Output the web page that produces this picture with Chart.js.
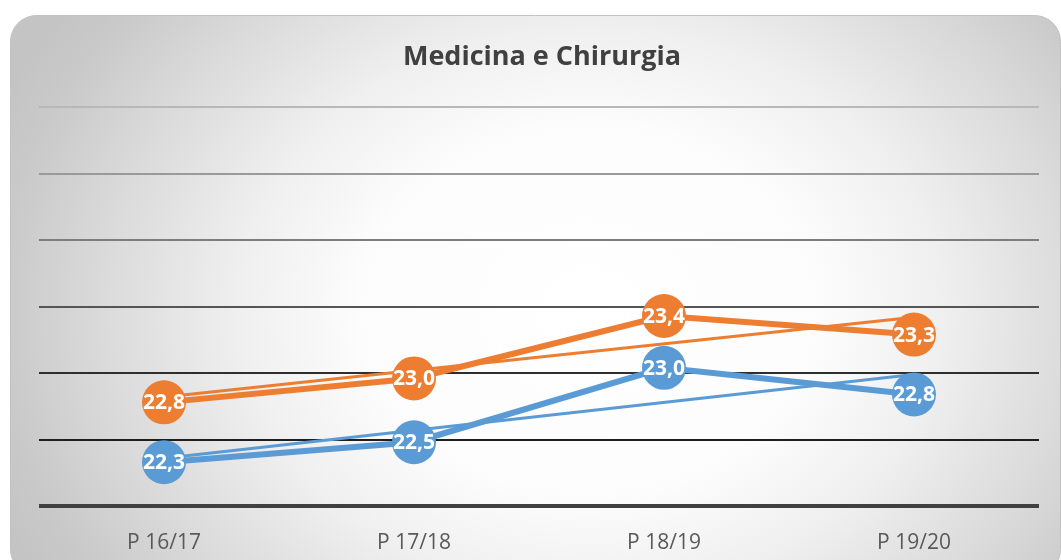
<!DOCTYPE html>
<html>
<head>
<meta charset="utf-8">
<script src="https://cdn.jsdelivr.net/npm/chart.js@4"></script>
<style>
  html, body { margin: 0; padding: 0; background: #ffffff; }
  canvas { display: block; }
</style>
</head>
<body>
<canvas id="c" width="1061" height="560"></canvas>
<script>
// ---- data ----
const categories = ['P 16/17', 'P 17/18', 'P 18/19', 'P 19/20'];
const seriesOrange = [22.78, 22.96, 23.43, 23.29];
const seriesBlue = [22.33, 22.48, 23.04, 22.84];
// linear trend lines (Excel-style), endpoints
const trendOrange = [22.82, null, null, 23.42];
const trendBlue = [22.36, null, null, 22.99];
const yTicks = [22, 22.5, 23, 23.5, 24, 24.5, 25];
const titleText = 'Medicina e Chirurgia';

const ORANGE = '#ED7D31';
const BLUE = '#5B9BD5';
const gridColors = ['#404040', '#1e1e1e', '#2e2e2e', '#555555', '#7d7d7d', '#9a9a9a', '#b8b8b8'];
const gridWidths = [4, 2, 2, 2, 2, 2, 2];

function roundRect(ctx, x, y, w, h, r) {
  ctx.beginPath();
  ctx.moveTo(x + r, y);
  ctx.lineTo(x + w - r, y);
  ctx.arcTo(x + w, y, x + w, y + r, r);
  ctx.lineTo(x + w, y + h - r);
  ctx.arcTo(x + w, y + h, x + w - r, y + h, r);
  ctx.lineTo(x + r, y + h);
  ctx.arcTo(x, y + h, x, y + h - r, r);
  ctx.lineTo(x, y + r);
  ctx.arcTo(x, y, x + r, y, r);
  ctx.closePath();
}

const cardPlugin = {
  id: 'card',
  beforeDraw(chart) {
    const ctx = chart.ctx;
    ctx.save();
    ctx.fillStyle = '#ffffff';
    ctx.fillRect(0, 0, chart.width, chart.height);
    roundRect(ctx, 10.5, 15.5, 1050, 560, 26);
    ctx.save();
    ctx.clip();
    const cx = 590, cy = 310, a = 560, b = 450;
    ctx.translate(cx, cy);
    ctx.scale(1, b / a);
    const g = ctx.createRadialGradient(0, 0, 0, 0, 0, a * 1.15);
    g.addColorStop(0, '#ffffff');
    g.addColorStop(0.36, '#fcfcfc');
    g.addColorStop(0.55, '#efefef');
    g.addColorStop(0.78, '#d8d8d8');
    g.addColorStop(0.92, '#c9c9c9');
    g.addColorStop(1, '#c4c4c4');
    ctx.fillStyle = g;
    ctx.fillRect(-2000, -2000, 4000, 4000);
    ctx.restore();
    ctx.lineWidth = 1;
    ctx.strokeStyle = '#c2c2c2';
    ctx.stroke();
    ctx.restore();
  }
};

const labelPlugin = {
  id: 'valueLabels',
  afterDatasetsDraw(chart) {
    const ctx = chart.ctx;
    ctx.save();
    ctx.font = 'bold 21px "Open Sans"';
    ctx.fillStyle = '#ffffff';
    ctx.textAlign = 'center';
    ctx.textBaseline = 'middle';
    chart.data.datasets.forEach((ds, i) => {
      if (!ds.showLabels) return;
      const meta = chart.getDatasetMeta(i);
      meta.data.forEach((pt, j) => {
        const v = ds.data[j];
        if (v == null) return;
        const txt = v.toFixed(1).replace('.', ',');
        ctx.fillText(txt, pt.x, pt.y + 1);
      });
    });
    ctx.restore();
  }
};

new Chart(document.getElementById('c'), {
  type: 'line',
  data: {
    labels: categories,
    datasets: [
      {
        label: 'Serie 2',
        data: seriesBlue,
        borderColor: BLUE,
        backgroundColor: BLUE,
        borderWidth: 6,
        pointRadius: 22,
        pointHoverRadius: 22,
        pointBorderWidth: 0,
        pointBackgroundColor: BLUE,
        tension: 0,
        clip: false,
        showLabels: true,
        order: 4
      },
      {
        label: 'Serie 1',
        data: seriesOrange,
        borderColor: ORANGE,
        backgroundColor: ORANGE,
        borderWidth: 6,
        pointRadius: 22,
        pointHoverRadius: 22,
        pointBorderWidth: 0,
        pointBackgroundColor: ORANGE,
        tension: 0,
        clip: false,
        showLabels: true,
        order: 3
      },
      {
        label: 'Tendenza Serie 2',
        data: trendBlue,
        borderColor: BLUE,
        borderWidth: 3,
        pointRadius: 0,
        spanGaps: true,
        tension: 0,
        clip: false,
        order: 2
      },
      {
        label: 'Tendenza Serie 1',
        data: trendOrange,
        borderColor: ORANGE,
        borderWidth: 3,
        pointRadius: 0,
        spanGaps: true,
        tension: 0,
        clip: false,
        order: 1
      }
    ]
  },
  options: {
    responsive: false,
    animation: false,
    events: [],
    layout: { padding: { left: 39, right: 16, top: 0, bottom: 0 } },
    plugins: {
      legend: { display: false },
      tooltip: { enabled: false },
      title: {
        display: true,
        text: titleText,
        color: '#404040',
        font: { family: '"Open Sans"', size: 27, weight: 'bold' },
        padding: { top: 41, bottom: 34 }
      }
    },
    scales: {
      x: {
        offset: true,
        grid: { display: false, drawTicks: false },
        border: { display: false },
        ticks: {
          color: '#595959',
          font: { family: '"Open Sans"', size: 21 },
          padding: 24
        },
        afterFit(axis) { axis.height = 54; }
      },
      y: {
        min: yTicks[0],
        max: yTicks[yTicks.length - 1],
        afterBuildTicks(axis) { axis.ticks = yTicks.map(v => ({ value: v })); },
        ticks: { display: false },
        border: { display: false },
        grid: {
          drawTicks: false,
          color: ctx => gridColors[ctx.index] || '#888888',
          lineWidth: ctx => gridWidths[ctx.index] || 2
        }
      }
    }
  },
  plugins: [cardPlugin, labelPlugin]
});
</script>
</body>
</html>
